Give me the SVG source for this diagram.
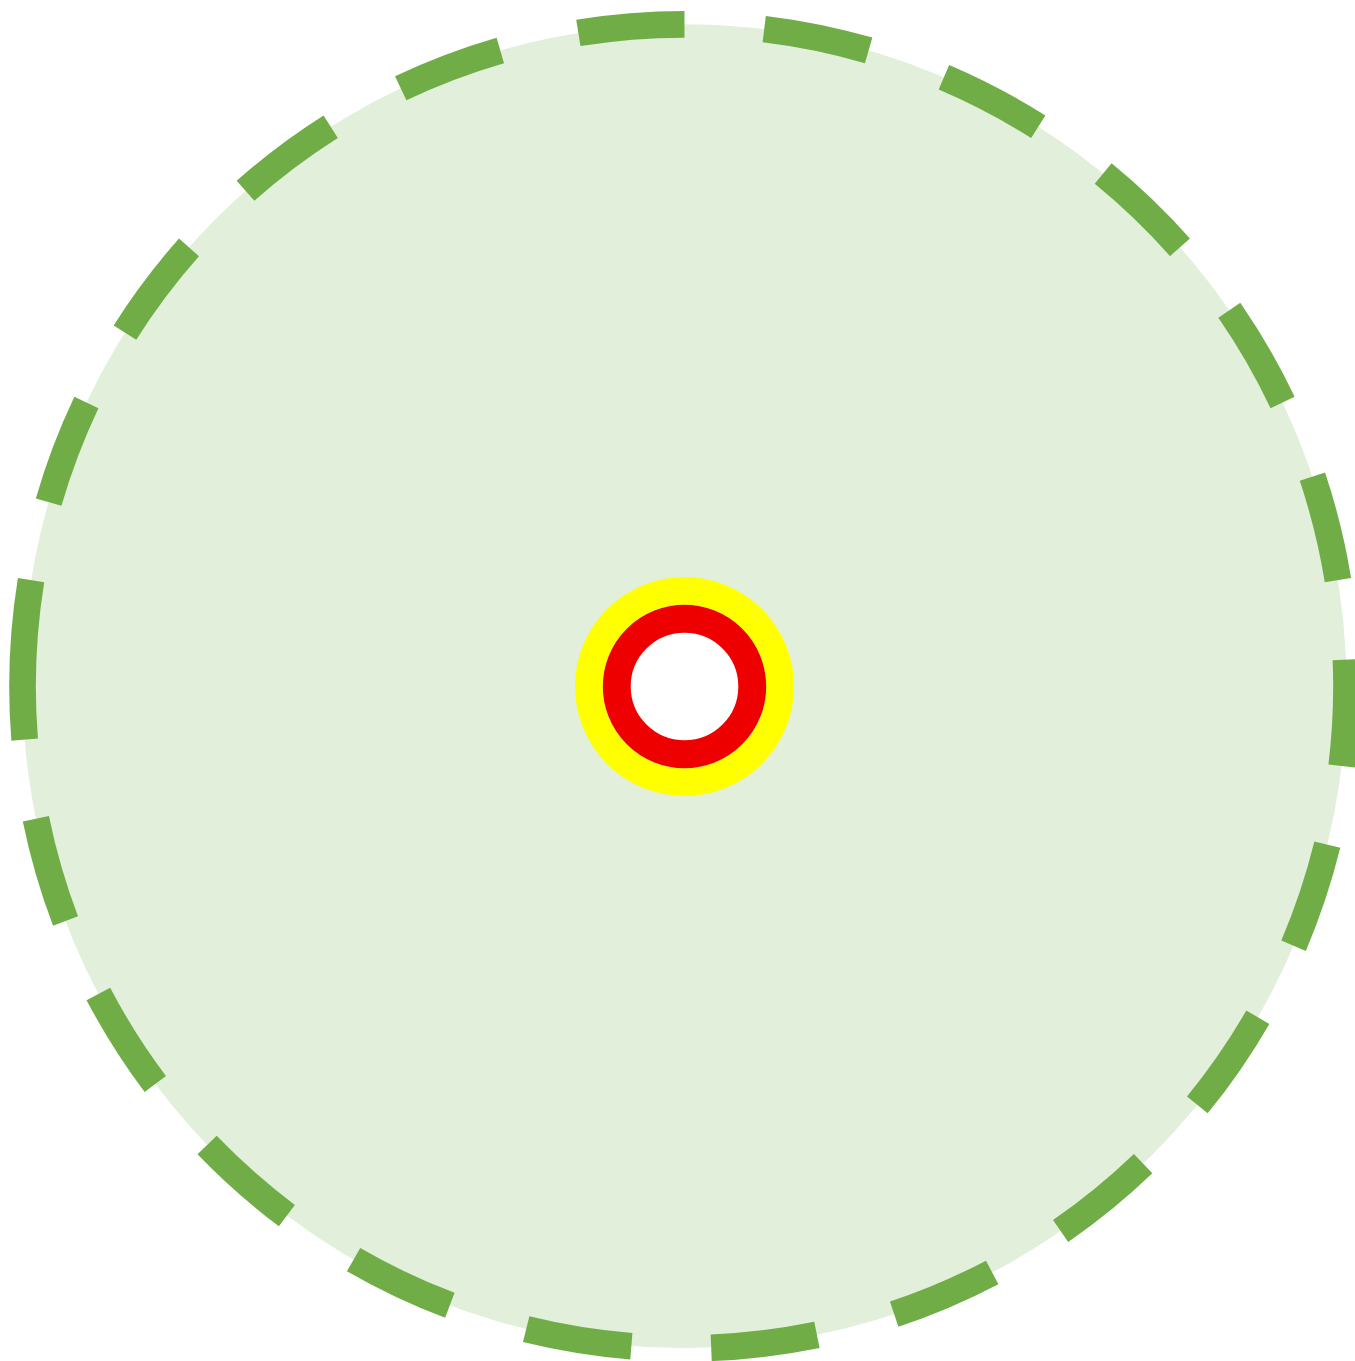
<svg xmlns="http://www.w3.org/2000/svg" width="1355" height="1361" viewBox="0 0 1355 1361">
  <style>
    .zone { fill: #E2EFDA; stroke: #70AD47; stroke-width: 26.66; stroke-dasharray: 106.64 79.98; stroke-linecap: butt; }
    .ring { fill: #FFFFFF; }
  </style>
  <rect x="0" y="0" width="1355" height="1361" fill="#FFFFFF"/>
  <g id="outer-zone">
    <path class="zone" d="M 22.5 686.3 A 662 662 0 0 1 1346.5 686.3 A 662 662 0 0 1 22.5 686.3 Z"/>
  </g>
  <g id="yellow-ring">
    <circle class="ring" cx="684.5" cy="686.5" r="95.6" stroke="#FFFF00" stroke-width="27.8"/>
  </g>
  <g id="red-ring">
    <circle class="ring" cx="684.5" cy="686.5" r="67.75" stroke="#EE0000" stroke-width="27.9"/>
  </g>
  <g id="connectors"></g>
</svg>
